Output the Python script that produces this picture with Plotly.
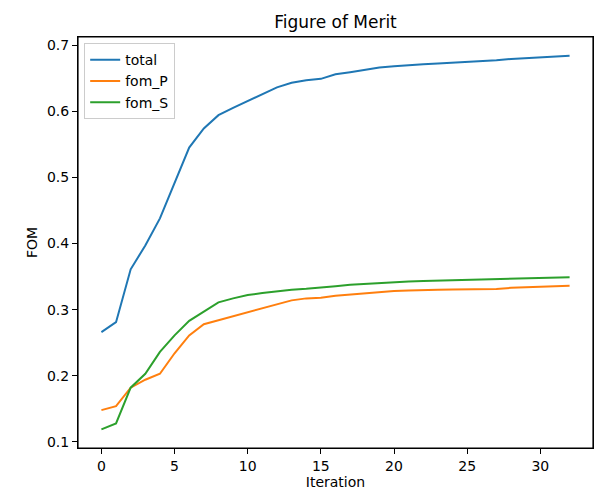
import plotly.graph_objects as go

iterations = list(range(33))
total = [0.266, 0.281, 0.361, 0.397, 0.438, 0.493, 0.545, 0.574, 0.594, 0.605, 0.615,
         0.626, 0.636, 0.643, 0.647, 0.649, 0.656, 0.659, 0.663, 0.666, 0.668, 0.670,
         0.671, 0.672, 0.673, 0.674, 0.676, 0.677, 0.679, 0.680, 0.681, 0.682, 0.684]
fom_P = [0.148, 0.154, 0.182, 0.194, 0.203, 0.234, 0.261, 0.278, 0.284, 0.290, 0.296,
         0.303, 0.309, 0.314, 0.317, 0.318, 0.321, 0.323, 0.325, 0.327, 0.328, 0.329,
         0.330, 0.330, 0.3305, 0.3305, 0.3315, 0.331, 0.333, 0.3335, 0.334, 0.335, 0.336]
fom_S = [0.119, 0.128, 0.182, 0.203, 0.236, 0.261, 0.283, 0.297, 0.311, 0.317, 0.322,
         0.325, 0.328, 0.330, 0.3315, 0.333, 0.3355, 0.3375, 0.339, 0.3405, 0.3415, 0.3426,
         0.3431, 0.3436, 0.3441, 0.3446, 0.3456, 0.346, 0.347, 0.3475, 0.3475, 0.348, 0.349]

series = [("total", total, "#1f77b4"), ("fom_P", fom_P, "#ff7f0e"), ("fom_S", fom_S, "#2ca02c")]

fig = go.Figure()
for name, vals, color in series:
    fig.add_trace(go.Scatter(x=iterations, y=vals, mode="lines", name=name,
                             line=dict(color=color, width=2)))

allv = total + fom_P + fom_S
ymin, ymax = min(allv), max(allv)
ypad = 0.05 * (ymax - ymin)
xmin, xmax = min(iterations), max(iterations)
xpad = 0.05 * (xmax - xmin)

font = "DejaVu Sans"
axis_common = dict(showgrid=False, zeroline=False, showline=True, linecolor="black",
                   linewidth=1, mirror=True, ticks="outside", ticklen=5, tickwidth=1,
                   tickcolor="black", automargin=False,
                   tickfont=dict(family=font, size=14, color="black"))

fig.update_layout(
    width=600, height=500,
    margin=dict(l=78, r=7, t=37, b=52),
    paper_bgcolor="white", plot_bgcolor="white",
    title=dict(text="Figure of Merit", x=(78 + 593) / 2 / 600, xanchor="center",
               y=1 - 22 / 500, yanchor="middle",
               font=dict(family=font, size=17, color="black")),
    xaxis=dict(range=[xmin - xpad, xmax + xpad], tickvals=[0, 5, 10, 15, 20, 25, 30],
               title=dict(text="Iteration", font=dict(family=font, size=14, color="black"),
                          standoff=4),
               **axis_common),
    yaxis=dict(range=[ymin - ypad, ymax + ypad],
               tickvals=[0.1, 0.2, 0.3, 0.4, 0.5, 0.6, 0.7],
               ticktext=["0.1", "0.2", "0.3", "0.4", "0.5", "0.6", "0.7"],
               title=dict(text="FOM", font=dict(family=font, size=14, color="black"),
                          standoff=6),
               **axis_common),
    legend=dict(x=0.012, y=0.985, xanchor="left", yanchor="top",
                bgcolor="rgba(255,255,255,0.8)", bordercolor="#cccccc", borderwidth=1,
                font=dict(family=font, size=14, color="black"), itemwidth=30,
                tracegroupgap=3),
    showlegend=True,
)
fig.add_shape(type="rect", xref="paper", yref="paper", x0=0, x1=1, y0=0, y1=1,
              line=dict(color="black", width=1.2), fillcolor="rgba(0,0,0,0)", layer="above")

fig.write_html("out.html", config={"displayModeBar": False},
               post_script="document.body.style.margin='0px';document.body.style.overflow='hidden';")
